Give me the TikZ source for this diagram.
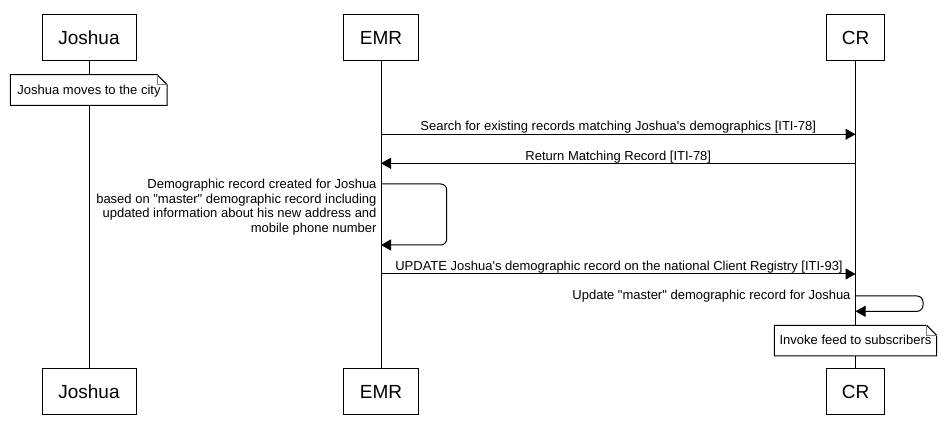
\documentclass[tikz,border=0pt]{standalone}
\usepackage{fontspec}
\setmainfont{Liberation Sans}
\usetikzlibrary{arrows.meta}
\begin{document}
\begin{tikzpicture}[x=1pt,y=-1pt,
  actor/.style={draw, line width=1pt, fill=white, minimum width=#1, minimum height=46pt, inner sep=0pt, font=\fontsize{19}{22}\selectfont},
  lifeline/.style={line width=1pt},
  msg/.style={line width=1pt, -{Triangle[length=10pt,width=11pt]}},
  lbl/.style={inner sep=0pt, font=\fontsize{13}{14.5}\selectfont},
  notebox/.style={draw, line width=1pt, fill=white},
  notefold/.style={draw=gray, line width=0.7pt},
]
\useasboundingbox (0,0) rectangle (946,438);

% participants
\node[actor=94pt]   (jt) at (89,38)    {Joshua};
\node[actor=75pt]   (et) at (381,38)   {EMR};
\node[actor=58.5pt] (ct) at (855.5,38) {CR};
\node[actor=94pt]   (jb) at (89,391.5)    {Joshua};
\node[actor=75pt]   (eb) at (381,391.5)   {EMR};
\node[actor=58.5pt] (cb) at (855.5,391.5) {CR};

% lifelines
\draw[lifeline] (jt.south) -- (jb.north);
\draw[lifeline] (et.south) -- (eb.north);
\draw[lifeline] (ct.south) -- (cb.north);

% note 1
\path[notebox] (10.3,74.7) -- (157,74.7) -- (167,84.7) -- (167,105.3) -- (10.3,105.3) -- cycle;
\draw[notefold] (157,74.7) -- (157,84.7) -- (167,84.7);
\node[lbl, anchor=base] (n1) at (89,94.3) {Joshua moves to the city};

% message 1
\coordinate (e1) at (381,134.3);
\coordinate (c1) at (855.5,134.3);
\node[lbl, anchor=base] (l1) at (618.25,131) {Search for existing records matching Joshua\textquotesingle s demographics [ITI-78]};
\draw[msg] (e1) -- (c1);

% message 2
\coordinate (e2) at (381,163.3);
\coordinate (c2) at (855.5,163.3);
\node[lbl, anchor=base] (l2) at (618.25,160.5) {Return Matching Record [ITI-78]};
\draw[msg] (c2) -- (e2);

% self message EMR
\coordinate (e3a) at (381,184);
\coordinate (e3b) at (381,245);
\node[lbl, align=right, anchor=base east] (l3) at (376.7,232.5) {Demographic record created for Joshua\\based on \textquotedbl master\textquotedbl{} demographic record including\\updated information about his new address and\\mobile phone number};
\draw[msg, rounded corners=6pt] (e3a) -- (446.7,184) -- (446.7,245) -- (e3b);

% message 3
\coordinate (e4) at (381,274);
\coordinate (c4) at (855.5,274);
\node[lbl, anchor=base] (l4) at (619,271) {UPDATE Joshua\textquotesingle s demographic record on the national Client Registry [ITI-93]};
\draw[msg] (e4) -- (c4);

% self message CR
\coordinate (c5a) at (855.5,296);
\coordinate (c5b) at (855.5,311.3);
\node[lbl, anchor=base east] (l5) at (850.7,300) {Update \textquotedbl master\textquotedbl{} demographic record for Joshua};
\draw[msg, rounded corners=6pt] (c5a) -- (923,296) -- (923,311.3) -- (c5b);

% note 2
\path[notebox] (774.3,325.3) -- (926.7,325.3) -- (936.7,335.3) -- (936.7,356) -- (774.3,356) -- cycle;
\draw[notefold] (926.7,325.3) -- (926.7,335.3) -- (936.7,335.3);
\node[lbl, anchor=base] (n2) at (855.5,345) {Invoke feed to subscribers};
\end{tikzpicture}
\end{document}
